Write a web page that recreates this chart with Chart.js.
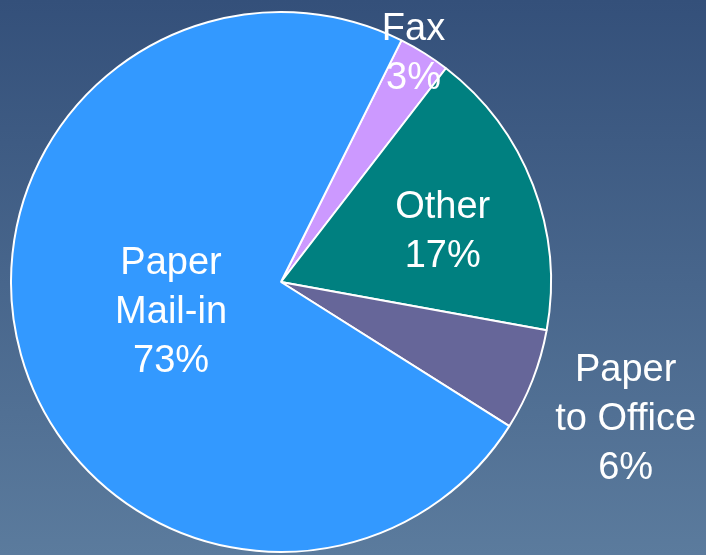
<!DOCTYPE html>
<html lang="en">
<head>
    <meta charset="UTF-8">
    <title>Submission Channels</title>
    <script src="https://cdn.jsdelivr.net/npm/chart.js"></script>
    <style>
        html, body { margin: 0; padding: 0; }
        body { width: 706px; height: 555px; overflow: hidden; background: linear-gradient(to bottom, #34507a, #5b7b9d); }
        .wrap { position: relative; width: 706px; height: 555px; }
    </style>
</head>
<body>
    <div class="wrap"><canvas id="pieChart"></canvas></div>

    <script>
        // slices in clockwise order, starting with Fax
        const categories = ['Fax', 'Other', 'Paper to Office', 'Paper Mail-in'];
        const labelLines = [['Fax'], ['Other'], ['Paper', 'to Office'], ['Paper', 'Mail-in']];
        const shares = [3.1, 17.4, 6.1, 73.4];
        const colors = ['#cc99ff', '#008080', '#666699', '#3399ff'];

        // where each label sits: angle tweak (deg) from slice middle, distance as fraction of radius
        const labelPlace = [[-2.2, 0.985], [2.9, 0.63], [0, 1.37], [1.4, 0.42]];

        const sliceLabels = {
            id: 'sliceLabels',
            afterDatasetsDraw(chart) {
                const ctx = chart.ctx;
                const arcs = chart.getDatasetMeta(0).data;
                ctx.save();
                ctx.fillStyle = '#ffffff';
                ctx.font = '38px "Liberation Sans", Arial, sans-serif';
                ctx.textAlign = 'center';
                ctx.textBaseline = 'middle';
                const lh = 49;
                arcs.forEach((arc, i) => {
                    const { x, y, startAngle, endAngle, outerRadius } = arc.getProps(['x', 'y', 'startAngle', 'endAngle', 'outerRadius'], true);
                    const a = (startAngle + endAngle) / 2 + labelPlace[i][0] * Math.PI / 180;
                    const r = outerRadius * labelPlace[i][1];
                    const cx = x + Math.cos(a) * r;
                    const cy = y + Math.sin(a) * r + 3; // 'middle' sits a bit above cap centre
                    const lines = labelLines[i].concat([Math.round(shares[i]) + '%']);
                    const top = cy - (lines.length - 1) * lh / 2;
                    lines.forEach((t, k) => ctx.fillText(t, cx, top + k * lh));
                });
                ctx.restore();
            }
        };

        new Chart(document.getElementById('pieChart').getContext('2d'), {
            type: 'pie',
            data: {
                labels: categories,
                datasets: [{
                    data: shares,
                    backgroundColor: colors,
                    borderColor: '#ffffff',
                    borderWidth: 2
                }]
            },
            options: {
                responsive: true,
                maintainAspectRatio: false,
                animation: false,
                rotation: 26.5,
                radius: 270,
                layout: { padding: { left: 11, right: 155, top: 12, bottom: 3 } },
                plugins: {
                    legend: { display: false },
                    tooltip: { enabled: false }
                }
            },
            plugins: [sliceLabels]
        });
    </script>
</body>
</html>
